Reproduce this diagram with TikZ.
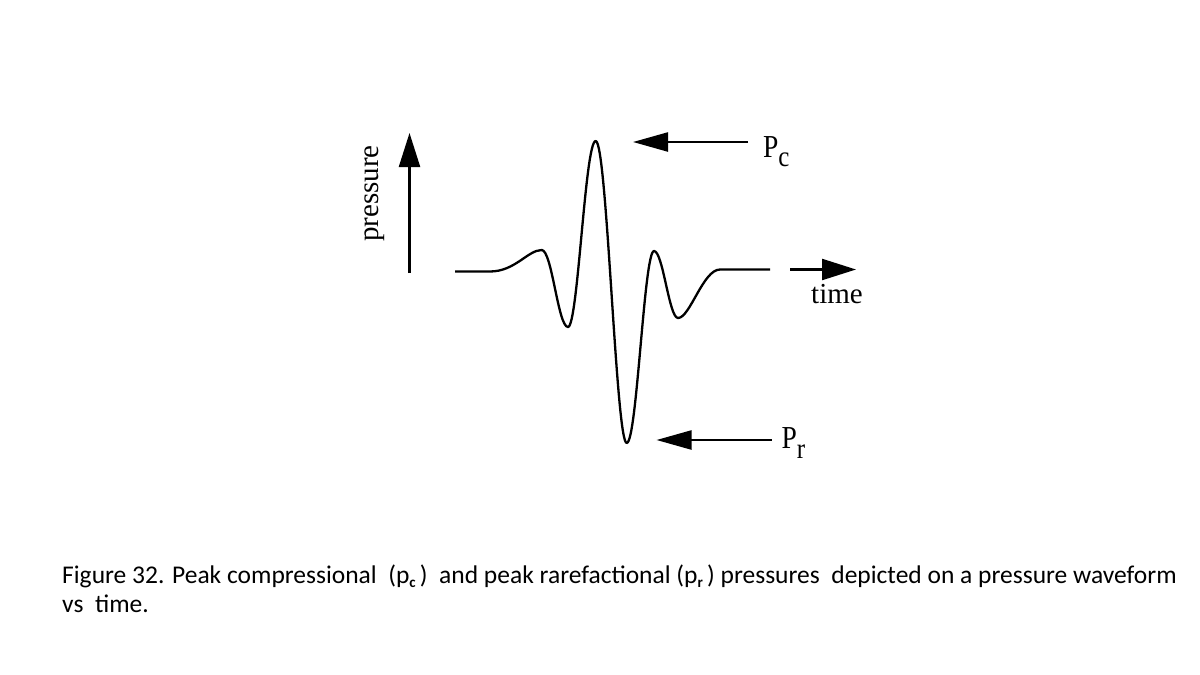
\documentclass[tikz,border=0pt]{standalone}
\usepackage{fontspec}
\setmainfont{Liberation Serif}
\newfontfamily\capfont{Carlito}
\usetikzlibrary{arrows.meta}
\newcommand{\capsub}[1]{\raisebox{-3.5pt}{\fontsize{15}{15}\selectfont\bfseries #1}}
\begin{document}
\begin{tikzpicture}[x=1pt,y=-1pt,
  wave/.style={line width=2.3pt,line join=round},
  axisarrow/.style={line width=2.3pt,-{Triangle[length=34pt,width=21pt]}},
  markarrow/.style={line width=2.3pt,-{Triangle[length=35pt,width=19pt]}},
  lbl/.style={inner sep=0pt,font=\fontsize{29}{29}\selectfont},
  plabel/.style={inner sep=0pt,xscale=0.86,font=\fontsize{32}{32}\selectfont},
  caption/.style={inner sep=0pt,align=left,font=\capfont\fontsize{25.5}{28.5}\selectfont}]
\useasboundingbox (0,0) rectangle (1200,675);
\fill[white] (0,0) rectangle (1200,675);
% pressure axis
\coordinate (pb) at (409.5,273);
\coordinate (pt) at (409.5,133);
\draw[axisarrow] (pb) -- (pt);
\node[lbl,rotate=90] (pressure) at (375,193.5) {pressure};
% time axis
\coordinate (tb) at (790,269.5);
\coordinate (tt) at (856,269.5);
\draw[axisarrow] (tb) -- (tt);
\node[lbl,anchor=base west] (time) at (811,303) {time};
% waveform
\draw[wave] (455,271.5) -- (490,271.5)
  .. controls (515,271.5) and (528,250) .. (541.7,250)
  .. controls (552,250) and (558,327) .. (568,327)
  .. controls (578,327) and (585,141) .. (595.7,141)
  .. controls (607,141) and (616,443) .. (626.7,443)
  .. controls (637,443) and (644,251) .. (654,251)
  .. controls (663,251) and (669,318) .. (678,318)
  .. controls (690,318) and (703,269.5) .. (720,269.5)
  -- (770,269.5);
% Pc
\node[plabel,anchor=base west] (pc) at (763,157) {P\raisebox{-9.7pt}{\fontsize{29}{29}\selectfont c}};
\coordinate (pcs) at (748,142);
\coordinate (pct) at (633,142);
\draw[markarrow] (pcs) -- (pct);
% Pr
\node[plabel,anchor=base west] (pr) at (781.5,448.3) {P\raisebox{-10pt}{\fontsize{29}{29}\selectfont r}};
\coordinate (prs) at (771.5,440);
\coordinate (prt) at (656.5,440);
\draw[markarrow] (prs) -- (prt);
% caption (base anchor = baseline of the last line)
\node[caption,anchor=base west] (cap) at (62,612) {Figure 32. Peak compressional\ \ (p\capsub{c}\,)\ \ and peak rarefactional (p\capsub{r}\,) pressures\ \ depicted on a pressure waveform\\vs\ \ time.};
\end{tikzpicture}
\end{document}
